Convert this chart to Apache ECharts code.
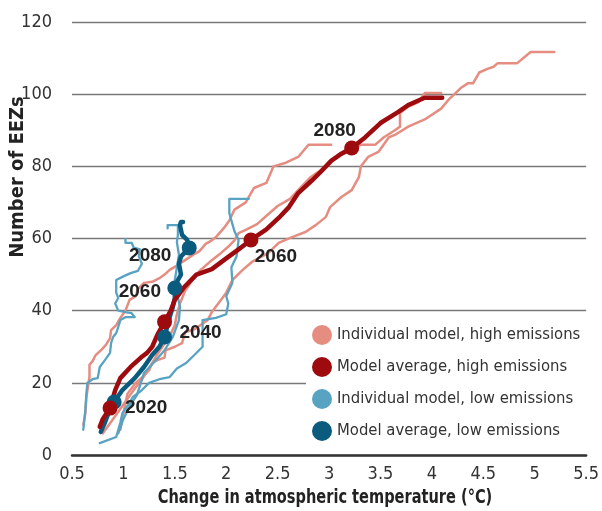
<!DOCTYPE html>
<html>
<head>
<meta charset="utf-8">
<title>EEZs vs temperature</title>
<script src="https://cdn.jsdelivr.net/npm/echarts@6/dist/echarts.min.js"></script>
<style>
  html, body { margin: 0; padding: 0; background: #fff; }
  #chart { width: 602px; height: 511px; }
</style>
</head>
<body>
<div id="chart"></div>
<script>
// axis ticks
const xTicks = [0.5, 1, 1.5, 2, 2.5, 3, 3.5, 4, 4.5, 5, 5.5]
const yTicks = [0, 20, 40, 60, 80, 100, 120]

// [temperature change °C, number of EEZs]
const highModelA = [[0.61,8.3],[0.63,11.6],[0.64,16],[0.65,18],[0.67,21.6],[0.67,25],[0.7,26],[0.73,27.7],[0.78,29],[0.83,30.5],[0.87,32.4],[0.88,34.6],[0.93,36],[0.97,38],[1.02,40],[1.06,43],[1.12,44],[1.14,46],[1.2,47.7],[1.28,48],[1.35,49],[1.4,50],[1.45,51.3],[1.52,52.5],[1.6,54],[1.68,55.5],[1.74,56.5],[1.8,58.5],[1.86,59.5],[1.9,60.4],[1.98,63],[2.03,65],[2.08,68],[2.19,70],[2.27,74],[2.39,75.4],[2.46,80],[2.58,81],[2.7,82.6],[2.8,86],[3.02,86]]
const highModelB = [[0.8,6],[0.9,10],[1.0,14],[1.1,18],[1.18,21],[1.25,24],[1.32,27.5],[1.38,30],[1.45,33],[1.5,36],[1.52,39],[1.55,42],[1.6,45.5],[1.66,48],[1.74,51],[1.86,54],[1.95,56],[2.03,58],[2.08,59.5],[2.12,61.5],[2.2,62.5],[2.3,64],[2.4,66.5],[2.5,69],[2.62,71],[2.72,74],[2.82,77],[2.92,79],[3.0,81],[3.1,83],[3.22,84.5],[3.31,86],[3.45,86],[3.53,88],[3.64,90],[3.69,91],[3.69,94.8],[3.77,96.5],[3.87,97.8],[3.93,100.3],[4.09,100.3]]
const highModelC = [[0.97,7],[1.01,13],[1.04,17],[1.12,20],[1.2,22],[1.25,23.5],[1.28,25.5],[1.33,26.3],[1.4,27],[1.41,29],[1.5,30],[1.57,31],[1.6,34],[1.7,35],[1.82,37.4],[1.86,39.6],[1.95,43],[2.0,45],[2.06,48.5],[2.16,51.3],[2.25,53.5],[2.41,56],[2.51,58.8],[2.64,60.4],[2.77,61.8],[2.87,63.7],[2.97,66],[3.01,68.7],[3.12,71.5],[3.22,73.4],[3.29,77],[3.31,80],[3.38,82.6],[3.48,84],[3.58,88],[3.64,88.7],[3.77,91],[3.93,93],[4.09,96],[4.16,98.4],[4.22,100],[4.28,101.7],[4.35,103],[4.4,103],[4.46,106],[4.54,107],[4.6,107.6],[4.64,108.6],[4.83,108.6],[4.96,111.7],[5.19,111.7]]

const lowModelA = [[0.61,7],[0.63,12.5],[0.64,17],[0.65,20],[0.7,21],[0.75,21.3],[0.77,24.4],[0.82,26.3],[0.87,28.3],[0.88,31],[0.9,32.7],[0.93,33.8],[0.95,35.5],[0.97,37.4],[1.02,38.2],[1.11,38.2],[1.08,39.3],[1.02,39.6],[0.95,40],[0.92,42],[0.95,43.5],[0.93,45],[0.93,48.5],[1.0,49.5],[1.07,50.4],[1.14,51],[1.18,53],[1.15,55],[1.16,57],[1.1,57.5],[1.08,58.8],[1.02,58.8],[1.02,59.8]]
const lowModelB = [[0.95,6],[1.0,10],[1.07,14],[1.13,16.5],[1.2,22.7],[1.3,25.8],[1.4,29],[1.48,32.7],[1.54,37.4],[1.55,41],[1.52,45],[1.5,48.5],[1.52,52],[1.54,55.5],[1.52,59],[1.53,61],[1.53,63.7],[1.43,63.7],[1.43,62.8]]
const lowModelC = [[0.77,3.3],[0.93,5],[0.97,9],[0.99,11.6],[1.05,14],[1.09,16],[1.18,18],[1.25,20],[1.35,21],[1.45,21.6],[1.52,24],[1.61,25.5],[1.7,28],[1.77,30],[1.77,34],[1.77,37.4],[1.9,38],[2.0,39],[2.02,42],[2.0,44],[2.06,47.7],[2.05,52],[2.1,55],[2.12,59.6],[2.08,62],[2.06,64],[2.03,67],[2.03,71],[2.22,71]]

const highAverage = [[0.77,7.8],[0.8,10],[0.87,13],[0.92,18],[0.97,21.3],[1.07,24.4],[1.17,27],[1.23,28.3],[1.28,30],[1.33,33.3],[1.4,36.9],[1.46,40],[1.5,43],[1.59,46.5],[1.71,50],[1.86,51.5],[2.0,54.5],[2.12,57],[2.24,59.6],[2.39,62.5],[2.51,65.7],[2.61,68.7],[2.7,72.6],[2.83,76],[2.92,78.5],[3.02,81.5],[3.12,83.5],[3.22,85.1],[3.35,88],[3.5,92],[3.67,95],[3.77,97],[3.93,99],[4.1,99]]
const lowAverage = [[0.78,6.4],[0.82,9],[0.86,12],[0.91,14.7],[0.99,18],[1.11,21.3],[1.2,24.4],[1.28,27.7],[1.35,30],[1.4,32.7],[1.45,38.2],[1.48,41],[1.5,43.5],[1.5,46.3],[1.53,48.5],[1.56,50],[1.54,53],[1.56,55],[1.64,57.4],[1.62,59.6],[1.57,61],[1.56,62.4],[1.55,63.7],[1.56,64.6],[1.58,64.6]]

const years = ['2020', '2040', '2060', '2080']
const highYearDots = [[0.87,13],[1.4,36.9],[2.24,59.6],[3.22,85.1]]
const lowYearDots = [[0.91,14.7],[1.4,32.7],[1.5,46.3],[1.64,57.4]]

const names = {
  highInd: 'Individual model, high emissions',
  highAvg: 'Model average, high emissions',
  lowInd: 'Individual model, low emissions',
  lowAvg: 'Model average, low emissions'
}

const colors = {
  highInd: '#e58d80',
  highAvg: '#9e0b0f',
  lowInd: '#58a3c2',
  lowAvg: '#0b5b7f',
  grid: '#7a7a7a',
  text: '#333'
}

const narrow = "'Liberation Sans Narrow', 'DejaVu Sans Condensed', sans-serif"

// year label offsets from the dot centre [dx, dy], null = no label
const highLabelOffsets = [null, null, [25, 17], [-17, -17]]
const lowLabelOffsets = [[32, 6], [36, -4], [-35, 4], [-39, 8]]

const lineSeries = (name, data, color, width, z) => ({
  name,
  type: 'line',
  data,
  showSymbol: false,
  symbol: 'none',
  color,
  lineStyle: { color, width, join: 'round', cap: 'round' },
  z,
  silent: true
})

const dotSeries = (name, dots, color, offsets, z) => ({
  name,
  type: 'scatter',
  symbolSize: 15,
  itemStyle: { color, opacity: 1 },
  z,
  data: dots.map((d, i) => ({
    value: d,
    label: offsets[i] ? {
      show: true,
      formatter: years[i],
      position: 'inside',
      offset: offsets[i],
      color: '#222',
      fontSize: 19,
      fontWeight: 'bold',
      fontFamily: 'Liberation Sans, sans-serif'
    } : { show: false }
  }))
})

const chart = echarts.init(document.getElementById('chart'))
chart.setOption({
  animation: false,
  backgroundColor: '#fff',
  grid: { left: 72, right: 13, top: 22, bottom: 56 },
  xAxis: {
    type: 'value',
    min: xTicks[0],
    max: xTicks[xTicks.length - 1],
    interval: xTicks[1] - xTicks[0],
    axisLine: { show: true, onZero: false, lineStyle: { color: '#333', width: 2.5 } },
    axisTick: { show: false },
    splitLine: { show: false },
    axisLabel: { color: colors.text, fontSize: 18, fontFamily: narrow, margin: 10 }
  },
  yAxis: {
    type: 'value',
    min: yTicks[0],
    max: yTicks[yTicks.length - 1],
    interval: yTicks[1] - yTicks[0],
    axisLine: { show: false },
    axisTick: { show: false },
    splitLine: { lineStyle: { color: colors.grid, width: 1.3 } },
    axisLabel: { color: colors.text, fontSize: 18, fontFamily: narrow, margin: 20 }
  },
  legend: {
    data: [names.highInd, names.highAvg, names.lowInd, names.lowAvg],
    orient: 'vertical',
    left: 306,
    top: 318,
    padding: [7, 8, 7, 6],
    itemWidth: 20,
    itemHeight: 20,
    itemGap: 12,
    icon: 'circle',
    backgroundColor: '#fff',
    selectedMode: false,
    textStyle: { color: colors.text, fontSize: 16.5, fontFamily: narrow }
  },
  graphic: [
    {
      type: 'text',
      x: 18,
      y: 177,
      rotation: Math.PI / 2,
      style: {
        text: 'Number of EEZs',
        fill: '#222',
        font: 'bold 20px ' + narrow,
        textAlign: 'center',
        textVerticalAlign: 'middle'
      }
    },
    {
      type: 'text',
      x: 325,
      y: 498,
      scaleX: 0.81,
      style: {
        text: 'Change in atmospheric temperature (°C)',
        fill: '#222',
        font: 'bold 20px ' + narrow,
        textAlign: 'center',
        textVerticalAlign: 'middle'
      }
    }
  ],
  series: [
    lineSeries(names.highInd, highModelA, colors.highInd, 2.5, 2),
    lineSeries(names.highInd, highModelB, colors.highInd, 2.5, 2),
    lineSeries(names.highInd, highModelC, colors.highInd, 2.5, 2),
    lineSeries(names.lowInd, lowModelA, colors.lowInd, 2.3, 3),
    lineSeries(names.lowInd, lowModelB, colors.lowInd, 2.3, 3),
    lineSeries(names.lowInd, lowModelC, colors.lowInd, 2.3, 3),
    lineSeries(names.lowAvg, lowAverage, colors.lowAvg, 4.5, 4),
    lineSeries(names.highAvg, highAverage, colors.highAvg, 4.5, 5),
    dotSeries('lowDots', lowYearDots, colors.lowAvg, lowLabelOffsets, 6),
    dotSeries('highDots', highYearDots, colors.highAvg, highLabelOffsets, 7)
  ]
})
</script>
</body>
</html>
